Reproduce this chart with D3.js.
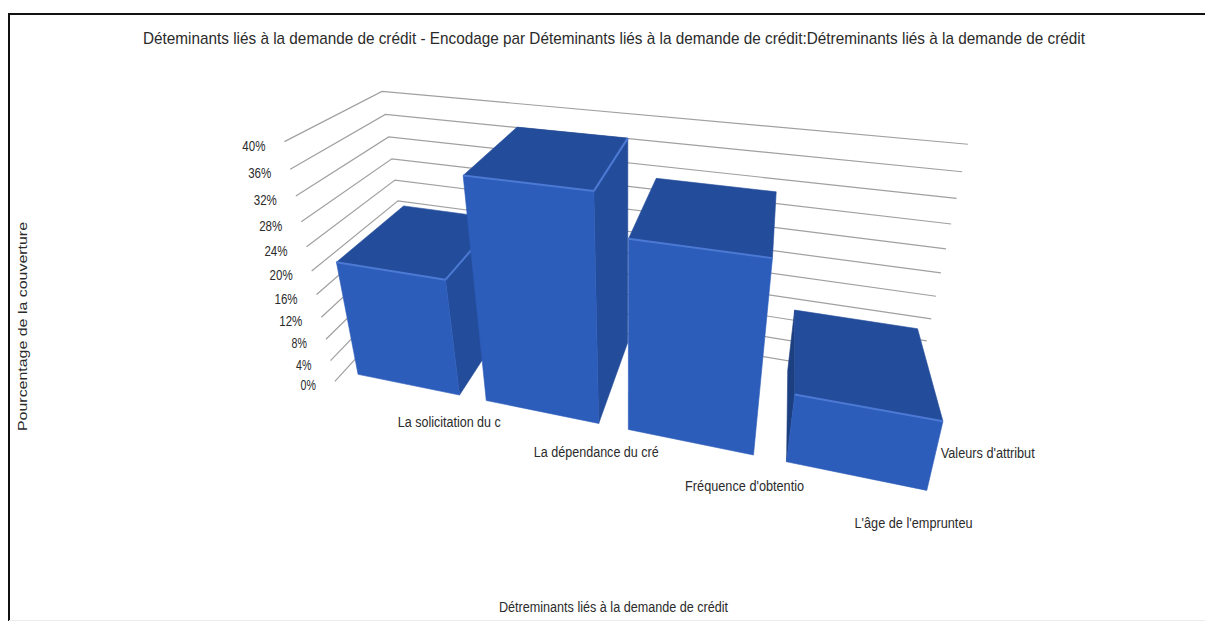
<!DOCTYPE html>
<html>
<head>
<meta charset="utf-8">
<script src="https://cdn.jsdelivr.net/npm/d3@7"></script>
<style>
  html, body { margin: 0; padding: 0; background: #fff; }
  svg { display: block; }
  text { font-family: "Liberation Sans", Arial, sans-serif; fill: #2b2b2b; }
</style>
</head>
<body>
<svg id="chart" width="1205" height="621"></svg>
<script>
// Chart data
const categories = ["La solicitation du c", "La dépendance du cré", "Fréquence d'obtentio", "L'âge de l'emprunteu"];
const coverage = [20.5, 37, 31, 11.5];
const valueTicks = [0, 4, 8, 12, 16, 20, 24, 28, 32, 36, 40];
const seriesLabel = "Valeurs d'attribut";
const chartTitle = "Déteminants liés à la demande de crédit - Encodage par Déteminants liés à la demande de crédit:Détreminants liés à la demande de crédit";
const yTitle = "Pourcentage de la couverture";
const xTitle = "Détreminants liés à la demande de crédit";

const svg = d3.select("#chart");

// Scales from data to the unit cube of the plot box
const xScale = d3.scaleBand().domain(categories).range([0.004, 1]).paddingInner(0.2).paddingOuter(0.1);
const yScale = d3.scaleLinear().domain([0, 40]).range([0, 1]);
const depth = { wall: 0, barBack: 0.1, barFront: 0.9, edge: 1 };

// Three-point perspective: origin is the far bottom corner of the box
const origin = [412, 297];
const vanish = { x: [-2148, -137], y: [627, 1770], z: [794, -121] };
const persp = { x: -0.165, y: -0.1225, z: -0.168 };
function weight(x, y, z) { return 1 + persp.x * x + persp.y * y + persp.z * z; }
function project(x, y, z) {
  const w = weight(x, y, z);
  return [0, 1].map(i =>
    (origin[i] + persp.x * x * vanish.x[i] + persp.y * y * vanish.y[i] + persp.z * z * vanish.z[i]) / w);
}
const toPath = pts => "M" + pts.map(p => p[0].toFixed(2) + "," + p[1].toFixed(2)).join("L") + "Z";

// Outer frame, open on the right
svg.append("path").attr("d", "M1205,14H9V621").attr("fill", "none").attr("stroke", "#111").attr("stroke-width", 2);
svg.append("line").attr("x1", 9).attr("x2", 1205).attr("y1", 620.5).attr("y2", 620.5).attr("stroke", "#ececec");

// Titles, narrowed to the set widths
svg.append("text").attr("x", 143).attr("y", 44).attr("font-size", 17)
  .attr("textLength", 942).attr("lengthAdjust", "spacingAndGlyphs").text(chartTitle);
svg.append("text").attr("x", 499).attr("y", 612).attr("font-size", 14)
  .attr("textLength", 229).attr("lengthAdjust", "spacingAndGlyphs").text(xTitle);
svg.append("text").attr("transform", "translate(27,431) rotate(-90)").attr("font-size", 13)
  .attr("textLength", 209).attr("lengthAdjust", "spacingAndGlyphs").text(yTitle);

// Gridlines along the side and back walls, with value labels at the front end
const grid = svg.append("g");
grid.selectAll("path").data(valueTicks).join("path")
  .attr("fill", "none").attr("stroke", "#a0a0a0").attr("stroke-width", 1.2)
  .attr("d", v => {
    const y = yScale(v);
    const pts = [project(0, y, depth.edge), project(0, y, depth.wall), project(1, y, depth.wall)];
    return "M" + pts.map(p => p.join(",")).join("L");
  });
grid.selectAll("text").data(valueTicks).join("text")
  .attr("font-size", 14)
  .attr("textLength", v => (v + "%").length * 7.7).attr("lengthAdjust", "spacingAndGlyphs")
  .attr("x", v => project(0, yScale(v), depth.edge)[0] - 19 - (v + "%").length * 7.7)
  .attr("y", v => project(0, yScale(v), depth.edge)[1] + 9)
  .text(v => v + "%");

// Bars, painted from the outside in so the one facing the viewer lands last
const bars = categories.map((c, i) => ({ c, v: coverage[i] }));
const paintOrder = [0, 1, 3, 2];
const colors = { front: "#2d5dba", top: "#234c9b", side: "#234c9b", sideLeft: "#1c3f82", edge: "#4c79d3" };

const barGroups = svg.append("g").selectAll("g").data(paintOrder.map(i => bars[i])).join("g");
barGroups.each(function (d) {
  const g = d3.select(this);
  const x0 = xScale(d.c), x1 = x0 + xScale.bandwidth(), h = yScale(d.v);
  const z0 = depth.barBack, z1 = depth.barFront;
  const P = (x, y, z) => project(x, y, z);
  const left = [P(x0, 0, z0), P(x0, 0, z1), P(x0, h, z1), P(x0, h, z0)];
  const right = [P(x1, 0, z1), P(x1, 0, z0), P(x1, h, z0), P(x1, h, z1)];
  const top = [P(x0, h, z1), P(x1, h, z1), P(x1, h, z0), P(x0, h, z0)];
  const front = [P(x0, 0, z1), P(x1, 0, z1), P(x1, h, z1), P(x0, h, z1)];
  // A side faces the viewer when its winding on screen stays the same as the front's
  const showRight = d3.polygonArea(right) * d3.polygonArea(front) > 0;
  const showLeft = d3.polygonArea(left) * d3.polygonArea(front) > 0;
  const face = (pts, fill) => g.append("path").attr("d", toPath(pts))
    .attr("fill", fill).attr("stroke", fill).attr("stroke-width", 0.6).attr("stroke-linejoin", "round");
  if (showLeft) face(left, colors.sideLeft);
  if (showRight) face(right, colors.side);
  face(top, colors.top);
  face(front, colors.front);
  const edge = (a, b) => g.append("line")
    .attr("x1", a[0]).attr("y1", a[1]).attr("x2", b[0]).attr("y2", b[1])
    .attr("stroke", colors.edge).attr("stroke-width", 2);
  edge(front[3], front[2]);
  if (showRight) edge(front[2], top[2]);
});

// Category labels start under each bar's centre on the box's front edge
svg.append("g").selectAll("text").data(categories).join("text")
  .attr("font-size", 14)
  .attr("textLength", (c, i) => [103, 125, 119, 118][i]).attr("lengthAdjust", "spacingAndGlyphs")
  .attr("x", c => project(xScale(c) + xScale.bandwidth() / 2, 0, depth.edge)[0] - 2)
  .attr("y", c => {
    const x = xScale(c) + xScale.bandwidth() / 2;
    return project(x, 0, depth.edge)[1] + 26 / weight(x, 0, depth.edge);
  })
  .text(c => c);

// Series label on the depth axis
const seriesAnchor = project(1, 0, 0.5);
svg.append("text").attr("x", seriesAnchor[0] + 9).attr("y", seriesAnchor[1] + 19)
  .attr("font-size", 14).attr("textLength", 94).attr("lengthAdjust", "spacingAndGlyphs").text(seriesLabel);
</script>
</body>
</html>
